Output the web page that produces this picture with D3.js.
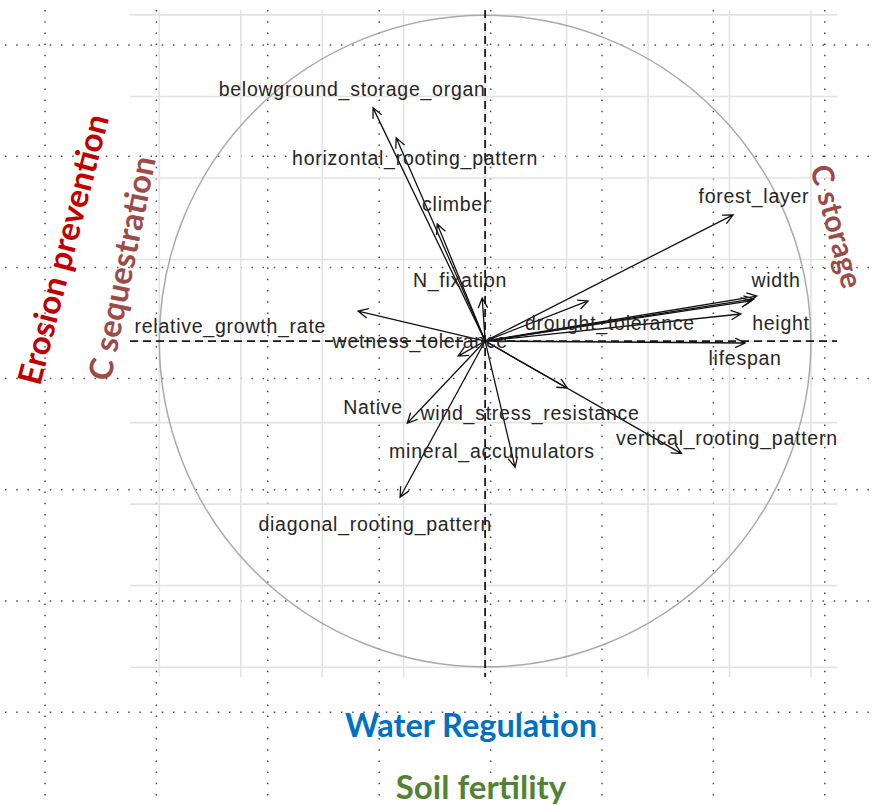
<!DOCTYPE html>
<html>
<head>
<meta charset="utf-8">
<script src="https://cdn.jsdelivr.net/npm/d3@7"></script>
<style>
  body { margin: 0; background: #ffffff; }
  svg { display: block; }
</style>
</head>
<body>
<svg id="chart" width="875" height="805"></svg>
<script>
// Correlation circle: trait loadings on the first two principal axes
const variables = [
  "belowground_storage_organ", "horizontal_rooting_pattern", "climber", "N_fixation",
  "relative_growth_rate", "wetness_tolerance", "drought_tolerance", "forest_layer",
  "width", "", "", "height", "lifespan", "Native", "wind_stress_resistance",
  "mineral_accumulators", "vertical_rooting_pattern", "diagonal_rooting_pattern"
];
const axis1 = [-0.344, -0.273, -0.147, -0.009, -0.390, -0.083, 0.316, 0.761,
               0.834, 0.825, 0.816, 0.785, 0.798, -0.239, 0.252, 0.092, 0.603, -0.261];
const axis2 = [0.715, 0.623, 0.359, 0.132, 0.092, -0.046, 0.123, 0.387,
               0.138, 0.129, 0.123, 0.083, -0.006, -0.252, -0.144, -0.387, -0.345, -0.479];
// label anchors, in axis units
const labelAxis1 = [-0.408, -0.215, -0.089, -0.077, -0.782, -0.199, 0.383, 0.825,
                    0.893, null, null, 0.908, 0.798, -0.344, 0.138, 0.021, 0.742, -0.337];
const labelAxis2 = [0.773, 0.561, 0.420, 0.187, 0.046, 0.000, 0.055, 0.445,
                    0.187, null, null, 0.055, -0.052, -0.202, -0.221, -0.338, -0.298, -0.561];
const gridTicks = [-1, -0.75, -0.5, -0.25, 0, 0.25, 0.5, 0.75, 1];
const serviceLabels = ["Erosion prevention", "C sequestration", "C storage", "Water Regulation", "Soil fertility"];

const svg = d3.select("#chart");
const W = 875, H = 805;

const x = d3.scaleLinear().domain([-1.09, 1.08]).range([130, 837]);
const y = d3.scaleLinear().domain([-1.03, 1.015]).range([677, 10]);

// slide guide grid (dotted, page-wide)
const guide = svg.append("g").attr("stroke", "#4a4a4a").attr("stroke-width", 1.5)
  .attr("stroke-dasharray", "1.5,9.7").attr("fill", "none");
d3.range(45, W, 111.4).forEach(gx => {
  guide.append("line").attr("x1", gx).attr("x2", gx).attr("y1", 10).attr("y2", H);
});
d3.range(45, H, 111.2).forEach(gy => {
  guide.append("line").attr("x1", 5).attr("x2", W).attr("y1", gy).attr("y2", gy);
});

// plot grid
const grid = svg.append("g").attr("stroke", "#e3e3e3").attr("stroke-width", 1.6);
gridTicks.forEach(t => {
  grid.append("line").attr("x1", x(t)).attr("x2", x(t)).attr("y1", y.range()[1]).attr("y2", y.range()[0]);
  grid.append("line").attr("x1", x.range()[0]).attr("x2", x.range()[1]).attr("y1", y(t)).attr("y2", y(t));
});

// unit circle
svg.append("circle")
  .attr("cx", x(0)).attr("cy", y(0)).attr("r", x(1) - x(0))
  .attr("fill", "none").attr("stroke", "#aaaaaa").attr("stroke-width", 1.5);

// dashed axes
const axes = svg.append("g").attr("stroke", "#1a1a1a").attr("stroke-width", 1.8).attr("stroke-dasharray", "8,5");
axes.append("line").attr("x1", x.range()[0]).attr("x2", x.range()[1]).attr("y1", y(0)).attr("y2", y(0));
axes.append("line").attr("x1", x(0)).attr("x2", x(0)).attr("y1", y.range()[1]).attr("y2", y.range()[0]);

// loading arrows
const arrows = svg.append("g").attr("stroke", "#111").attr("stroke-width", 1.3).attr("fill", "none");
const headLen = 11, headAng = Math.PI / 7;
variables.forEach((v, i) => {
  const x0 = x(0), y0 = y(0), x1 = x(axis1[i]), y1 = y(axis2[i]);
  const a = Math.atan2(y1 - y0, x1 - x0);
  const p = d3.path();
  p.moveTo(x0, y0); p.lineTo(x1, y1);
  p.moveTo(x1 - headLen * Math.cos(a - headAng), y1 - headLen * Math.sin(a - headAng));
  p.lineTo(x1, y1);
  p.lineTo(x1 - headLen * Math.cos(a + headAng), y1 - headLen * Math.sin(a + headAng));
  arrows.append("path").attr("d", p.toString());
});

// variable labels
const labels = svg.append("g")
  .attr("font-family", "'Liberation Sans', Arial, sans-serif")
  .attr("font-size", 19.5).attr("letter-spacing", 0.75)
  .attr("fill", "#262626").attr("text-anchor", "middle");
variables.forEach((v, i) => {
  if (!v) return;
  labels.append("text")
    .attr("x", x(labelAxis1[i])).attr("y", y(labelAxis2[i]))
    .attr("dominant-baseline", "central")
    .text(v);
});

// ecosystem service annotations
const ann = svg.append("g").attr("font-family", "Lato, 'Open Sans', sans-serif").attr("font-weight", 700)
  .attr("text-anchor", "middle").attr("dominant-baseline", "central");
ann.append("text").attr("transform", "translate(62,249) rotate(-75.6)")
  .attr("font-size", 33).attr("fill", "#c00000").text(serviceLabels[0]);
ann.append("text").attr("transform", "translate(121,268) rotate(-78.5)")
  .attr("font-size", 32.5).attr("fill", "#9c4b49").text(serviceLabels[1]);
ann.append("text").attr("transform", "translate(838,226) rotate(75)")
  .attr("font-size", 30).attr("fill", "#9c4b49").text(serviceLabels[2]);
ann.append("text").attr("x", 471).attr("y", 724)
  .attr("font-size", 32.5).attr("fill", "#0070c0").text(serviceLabels[3]);
ann.append("text").attr("x", 481).attr("y", 786)
  .attr("font-size", 33).attr("fill", "#548235").text(serviceLabels[4]);
</script>
</body>
</html>
